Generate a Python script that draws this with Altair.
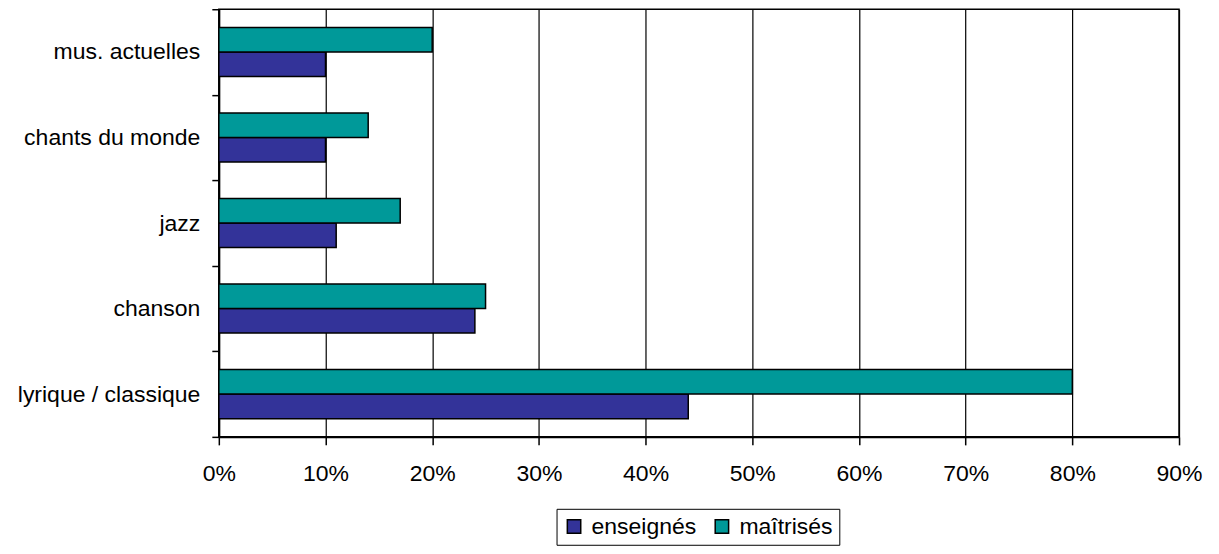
import altair as alt
import pandas as pd

categories = ["mus. actuelles", "chants du monde", "jazz", "chanson", "lyrique / classique"]
enseignes = [0.10, 0.10, 0.11, 0.24, 0.44]
maitrises = [0.20, 0.14, 0.17, 0.25, 0.80]
series = ["enseignés", "maîtrisés"]
x_ticks = [0, 0.1, 0.2, 0.3, 0.4, 0.5, 0.6, 0.7, 0.8, 0.9]

rows = []
for c, e, m in zip(categories, enseignes, maitrises):
    rows.append({"cat": c, "serie": "enseignés", "val": e})
    rows.append({"cat": c, "serie": "maîtrisés", "val": m})
df = pd.DataFrame(rows)

FONT = "Liberation Sans"

chart = alt.Chart(df).mark_bar(stroke="black", strokeWidth=1.5).encode(
    y=alt.Y("cat:N", sort=categories,
            scale=alt.Scale(paddingInner=0, paddingOuter=0),
            axis=alt.Axis(title=None, tickBand="extent", tickSize=7, labelPadding=12,
                          labelLimit=400, domainWidth=2, tickWidth=1.5)),
    yOffset=alt.YOffset("serie:N", sort=["maîtrisés", "enseignés"],
                        scale=alt.Scale(paddingOuter=0.743, paddingInner=0)),
    x=alt.X("val:Q", scale=alt.Scale(domain=[0, 0.9], nice=False),
            axis=alt.Axis(title=None, format="%", values=x_ticks, tickSize=8,
                          labelPadding=18, labelFlush=False, labelOverlap=False,
                          grid=True, gridColor="black", gridOpacity=1,
                          gridWidth=1.2, domainWidth=2, tickWidth=1.5)),
    color=alt.Color("serie:N", scale=alt.Scale(domain=series, range=["#333399", "#009999"]),
                    legend=alt.Legend(title=None, orient="none", legendX=338, legendY=500,
                                      direction="horizontal", symbolType="square",
                                      symbolSize=180, symbolStrokeColor="black",
                                      symbolStrokeWidth=1.5, labelFontSize=23, labelFont=FONT,
                                      labelColor="black", strokeColor="black", padding=6,
                                      columnPadding=14, labelOffset=6)),
).properties(
    width=961, height=428,
    autosize=alt.AutoSizeParams(type="none"),
    padding={"left": 211, "top": 1, "right": 32, "bottom": 110},
).configure_axis(
    labelFont=FONT, labelFontSize=23, labelColor="black",
    tickColor="black", domainColor="black",
).configure_view(
    stroke="black", strokeWidth=1.5,
)

chart.save("out.html", embed_options={"renderer": "svg", "actions": False})
